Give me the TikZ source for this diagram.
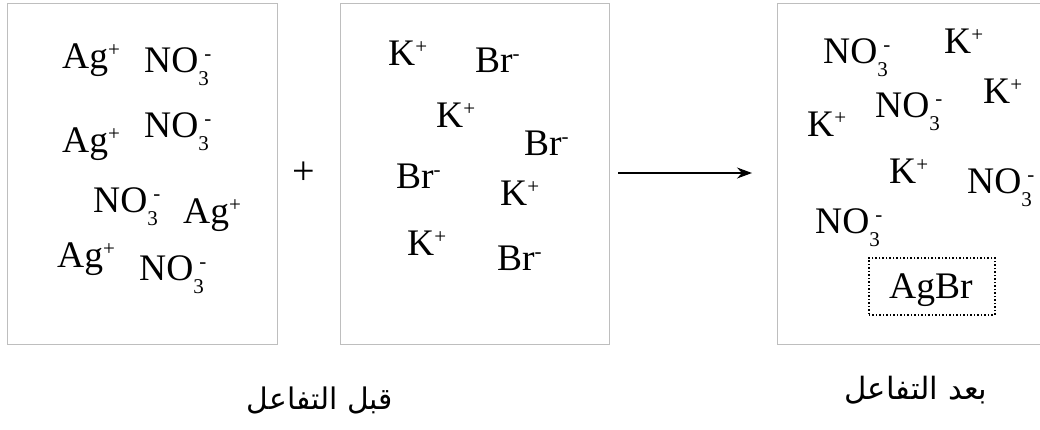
\documentclass[tikz,border=0pt]{standalone}
\usepackage{fontspec}
\setmainfont{Liberation Serif}
\newfontfamily\arabicfont[Script=Arabic]{DejaVu Sans}
\TeXXeTstate=1
\usetikzlibrary{arrows.meta}
\newcommand{\ionsup}[1]{\raisebox{0.3em}{\fontsize{21}{21}\selectfont #1}}
\newcommand{\ionsub}[1]{\raisebox{-0.36em}{\fontsize{21}{21}\selectfont #1}}
\newcommand{\agp}{Ag\ionsup{+}}
\newcommand{\nothree}{NO\ionsub{3}\hspace{-0.12em}\ionsup{-}}
\newcommand{\kp}{K\ionsup{+}}
\newcommand{\brm}{Br\ionsup{-}}
\definecolor{boxgray}{RGB}{190,190,190}
\tikzset{
  beaker/.style={draw=boxgray, line width=1.4pt, anchor=north west, inner sep=0pt},
  ion/.style={anchor=base west, inner sep=0pt, font=\fontsize{37.5}{37.5}\selectfont},
  label/.style={anchor=center, inner sep=0pt},
}
\begin{document}
\begin{tikzpicture}[x=1pt,y=-1pt]
\useasboundingbox (0,0) rectangle (1040,429);
\clip (0,0) rectangle (1040,429);
% boxes
\node[beaker, minimum width=270pt, minimum height=341pt] (b1) at (7,2.5) {};
\node[beaker, minimum width=269pt, minimum height=341pt] (b2) at (340,2.5) {};
\node[beaker, minimum width=275pt, minimum height=341pt] (b3) at (777,2.5) {};
% box 1
\node[ion] (a1) at (62,68) {\agp};
\node[ion] (n1) at (144,72) {\nothree};
\node[ion] (a2) at (62,152) {\agp};
\node[ion] (n2) at (144,137) {\nothree};
\node[ion] (n3) at (93,212) {\nothree};
\node[ion] (a3) at (183,223) {\agp};
\node[ion] (a4) at (57,267) {\agp};
\node[ion] (n4) at (139,280) {\nothree};
% box 2
\node[ion] (k1) at (388,65) {\kp};
\node[ion] (r1) at (475,72) {\brm};
\node[ion] (k2) at (436,127) {\kp};
\node[ion] (r2) at (524,155) {\brm};
\node[ion] (r3) at (396,188) {\brm};
\node[ion] (k3) at (500,205) {\kp};
\node[ion] (k4) at (407,255) {\kp};
\node[ion] (r4) at (497,270) {\brm};
% box 3
\node[ion] (m1) at (823,63) {\nothree};
\node[ion] (q1) at (944,53) {\kp};
\node[ion] (q2) at (983,103) {\kp};
\node[ion] (m2) at (875,117) {\nothree};
\node[ion] (q3) at (807,136) {\kp};
\node[ion] (q4) at (889,183) {\kp};
\node[ion] (m3) at (967,193) {\nothree};
\node[ion] (m4) at (815,233) {\nothree};
\node[draw, dotted, line width=1.5pt, minimum width=126pt, minimum height=57pt, inner sep=0pt, anchor=north west] (ppt) at (868,257) {};
\node[ion] (agbr) at (889,298) {AgBr};
% plus and arrow
\node[inner sep=0pt, font=\fontsize{40}{40}\selectfont] (plus) at (304,173) {+};
\coordinate (s) at (618,173);
\coordinate (e) at (752,173);
\draw[line width=1.3pt, -{Stealth[length=15pt,width=11pt]}] (s) -- (e);
% labels
\node[label] (before) at (320,400) {\resizebox{146pt}{!}{\arabicfont\beginR قبل التفاعل\endR}};
\node[label] (after) at (916,390) {\resizebox{143pt}{!}{\arabicfont\beginR بعد التفاعل\endR}};
\end{tikzpicture}
\end{document}
